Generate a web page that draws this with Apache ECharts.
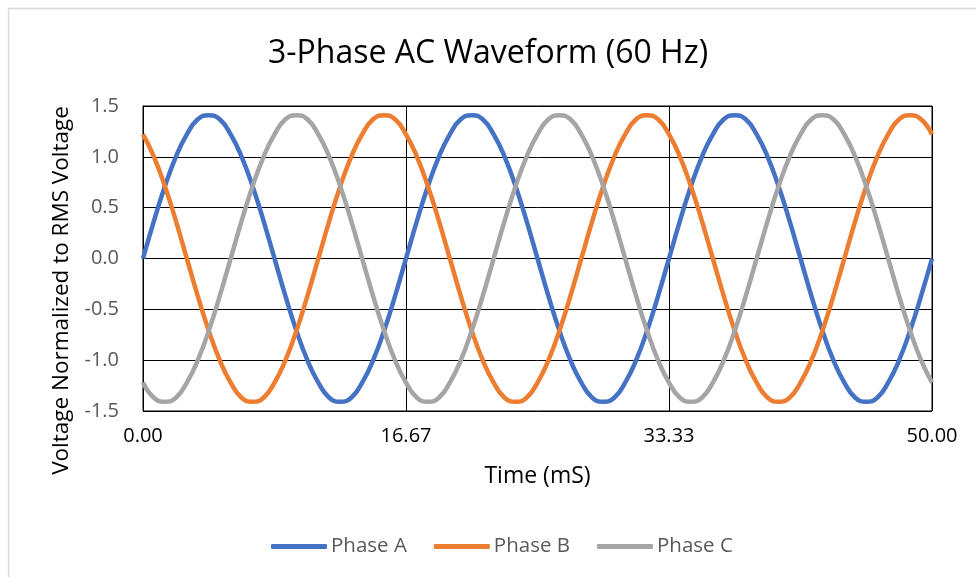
<!DOCTYPE html>
<html>
<head>
<meta charset="utf-8">
<script src="https://cdn.jsdelivr.net/npm/echarts@6/dist/echarts.min.js"></script>
<style>
  html, body { margin: 0; padding: 0; background: #fff; }
  #chart { width: 976px; height: 577px; }
</style>
</head>
<body>
<div id="chart"></div>
<script>
// time in ms, 15 degree steps over three 60 Hz cycles
var times = ['0.00','0.69','1.39','2.08','2.78','3.47','4.17','4.86','5.56','6.25','6.94','7.64',
  '8.33','9.03','9.72','10.42','11.11','11.81','12.50','13.19','13.89','14.58','15.28','15.97',
  '16.67','17.36','18.06','18.75','19.44','20.14','20.83','21.53','22.22','22.92','23.61','24.31',
  '25.00','25.69','26.39','27.08','27.78','28.47','29.17','29.86','30.56','31.25','31.94','32.64',
  '33.33','34.03','34.72','35.42','36.11','36.81','37.50','38.19','38.89','39.58','40.28','40.97',
  '41.67','42.36','43.06','43.75','44.44','45.14','45.83','46.53','47.22','47.92','48.61','49.31',
  '50.00'];

var phaseA = [0, 0.37, 0.71, 1.00, 1.22, 1.37, 1.41, 1.37, 1.22, 1.00, 0.71, 0.37,
  0, -0.37, -0.71, -1.00, -1.22, -1.37, -1.41, -1.37, -1.22, -1.00, -0.71, -0.37,
  0, 0.37, 0.71, 1.00, 1.22, 1.37, 1.41, 1.37, 1.22, 1.00, 0.71, 0.37,
  0, -0.37, -0.71, -1.00, -1.22, -1.37, -1.41, -1.37, -1.22, -1.00, -0.71, -0.37,
  0, 0.37, 0.71, 1.00, 1.22, 1.37, 1.41, 1.37, 1.22, 1.00, 0.71, 0.37,
  0, -0.37, -0.71, -1.00, -1.22, -1.37, -1.41, -1.37, -1.22, -1.00, -0.71, -0.37,
  0];

var phaseB = [1.22, 1.00, 0.71, 0.37, 0, -0.37, -0.71, -1.00, -1.22, -1.37, -1.41, -1.37,
  -1.22, -1.00, -0.71, -0.37, 0, 0.37, 0.71, 1.00, 1.22, 1.37, 1.41, 1.37,
  1.22, 1.00, 0.71, 0.37, 0, -0.37, -0.71, -1.00, -1.22, -1.37, -1.41, -1.37,
  -1.22, -1.00, -0.71, -0.37, 0, 0.37, 0.71, 1.00, 1.22, 1.37, 1.41, 1.37,
  1.22, 1.00, 0.71, 0.37, 0, -0.37, -0.71, -1.00, -1.22, -1.37, -1.41, -1.37,
  -1.22, -1.00, -0.71, -0.37, 0, 0.37, 0.71, 1.00, 1.22, 1.37, 1.41, 1.37,
  1.22];

var phaseC = [-1.22, -1.37, -1.41, -1.37, -1.22, -1.00, -0.71, -0.37, 0, 0.37, 0.71, 1.00,
  1.22, 1.37, 1.41, 1.37, 1.22, 1.00, 0.71, 0.37, 0, -0.37, -0.71, -1.00,
  -1.22, -1.37, -1.41, -1.37, -1.22, -1.00, -0.71, -0.37, 0, 0.37, 0.71, 1.00,
  1.22, 1.37, 1.41, 1.37, 1.22, 1.00, 0.71, 0.37, 0, -0.37, -0.71, -1.00,
  -1.22, -1.37, -1.41, -1.37, -1.22, -1.00, -0.71, -0.37, 0, 0.37, 0.71, 1.00,
  1.22, 1.37, 1.41, 1.37, 1.22, 1.00, 0.71, 0.37, 0, -0.37, -0.71, -1.00,
  -1.22];

var names = ['Phase A', 'Phase B', 'Phase C'];
var colors = ['#4472C4', '#ED7D31', '#A5A5A5'];

var font = '"Open Sans", "Noto Sans", sans-serif';
var chart = echarts.init(document.getElementById('chart'), null, { renderer: 'canvas' });

function makeSeries(name, data, color) {
  return {
    name: name,
    type: 'line',
    data: data,
    smooth: true,
    symbol: 'none',
    lineStyle: { color: color, width: 4.5 },
    itemStyle: { color: color }
  };
}

var option = {
  animation: false,
  textStyle: { fontFamily: font },
  title: {
    text: '3-Phase AC Waveform (60 Hz)',
    left: 'center',
    top: 33,
    textStyle: { fontFamily: font, fontSize: 32, fontWeight: 'normal', color: '#000' }
  },
  graphic: [{
    type: 'rect',
    shape: { x: 8.5, y: 8.5, width: 2000, height: 2000 },
    style: { fill: 'none', stroke: '#d9d9d9', lineWidth: 1.5 },
    silent: true
  }],
  legend: {
    bottom: 15,
    left: 266,
    icon: 'roundRect',
    itemWidth: 56,
    itemHeight: 5,
    itemGap: 27,
    textStyle: { fontFamily: font, fontSize: 20.5, color: '#595959', padding: [0, 0, 0, -1] },
    data: names
  },
  grid: {
    left: 143, right: 44, top: 106, bottom: 166,
    show: true, borderColor: '#000', borderWidth: 1
  },
  xAxis: {
    type: 'category',
    data: times,
    boundaryGap: false,
    name: 'Time (mS)',
    nameLocation: 'middle',
    nameGap: 54,
    nameTextStyle: { fontFamily: font, fontSize: 23, color: '#000' },
    axisLine: { lineStyle: { color: '#000', width: 1 } },
    axisTick: { show: false },
    axisLabel: { interval: 23, color: '#000', fontSize: 20, fontFamily: font, margin: 15 },
    splitLine: { show: true, interval: 23, lineStyle: { color: '#000', width: 1 } }
  },
  yAxis: {
    type: 'value',
    min: -1.5, max: 1.5, interval: 0.5,
    name: 'Voltage Normalized to RMS Voltage',
    nameLocation: 'middle',
    nameGap: 70,
    nameTextStyle: { fontFamily: font, fontSize: 22.5, color: '#000', padding: [0, 64, 0, 0] },
    axisLine: { show: true, lineStyle: { color: '#000', width: 1 } },
    axisTick: { show: false },
    axisLabel: {
      color: '#595959', fontSize: 20, fontFamily: font, margin: 24,
      formatter: function (v) { return v.toFixed(1); }
    },
    splitLine: { show: true, lineStyle: { color: '#000', width: 1 } }
  },
  series: [
    makeSeries(names[0], phaseA, colors[0]),
    makeSeries(names[1], phaseB, colors[1]),
    makeSeries(names[2], phaseC, colors[2])
  ]
};

chart.setOption(option);
</script>
</body>
</html>
